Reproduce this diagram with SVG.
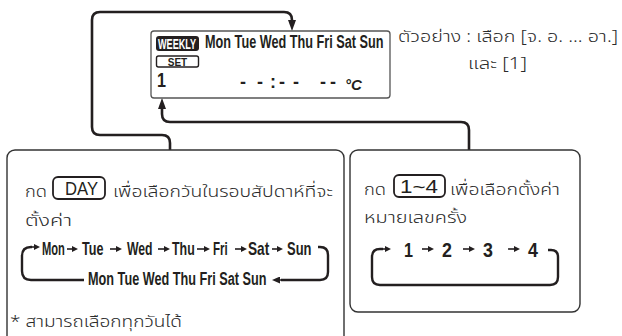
<svg xmlns="http://www.w3.org/2000/svg" width="622" height="336" viewBox="0 0 622 336">
<style>
.bg{fill:#fff}
.box{fill:#fff;stroke:#333;stroke-width:1.4}
.disp{fill:#fff;stroke:#555;stroke-width:1.3}
.con{fill:none;stroke:#231f20;stroke-width:2.6;stroke-linejoin:round}
.loop{fill:none;stroke:#231f20;stroke-width:2.4}
.sa{stroke:#231f20;stroke-width:1.6}
.c{font-family:"Liberation Sans",Arial,sans-serif;font-weight:bold;fill:#231f20}
.th{font-family:"Noto Sans Thai","Noto Sans","DejaVu Sans",sans-serif;fill:#2a2a2a;font-size:16.5px;font-weight:300}
.btn{fill:#fff;stroke:#231f20;stroke-width:1.8}
.btxt{font-family:"Liberation Sans",Arial,sans-serif;fill:#231f20}
</style>
<defs>
<marker id="big" viewBox="0 0 11 8" refX="0" refY="4" markerWidth="11" markerHeight="8" markerUnits="userSpaceOnUse" orient="auto"><path d="M0,0 L11,4 L0,8 z" fill="#231f20"/></marker>
<marker id="sm" viewBox="0 0 6 6" refX="0" refY="3" markerWidth="6" markerHeight="6" markerUnits="userSpaceOnUse" orient="auto"><path d="M0,0 L6,3 L0,6 z" fill="#231f20"/></marker>
<marker id="md" viewBox="0 0 8 7" refX="0" refY="3.5" markerWidth="8" markerHeight="7" markerUnits="userSpaceOnUse" orient="auto"><path d="M0,0 L8,3.5 L0,7 z" fill="#231f20"/></marker>
</defs>
<rect class="bg" x="0" y="0" width="622" height="336"/>

<g id="connectors">
<path class="con" d="M170 150 V143 Q170 135 162 135 H100 Q92 135 92 127 V20 Q92 12 100 12 H284 Q292 12 292 20" marker-end="url(#big)"/>
<path class="con" d="M469 150 V130 Q469 122 461 122 H170 Q162 122 162 114 V109" marker-end="url(#big)"/>
</g>

<g id="display">
<rect class="disp" x="151" y="31" width="239" height="67" rx="3"/>
<rect x="156" y="36" width="43" height="15" rx="3" fill="#231f20"/>
<text class="c" transform="translate(158 49) scale(0.65 1)" font-size="14" style="fill:#fff">WEEKLY</text>
<text class="c" transform="translate(205 48) scale(0.705 1)" font-size="18">Mon Tue Wed Thu Fri Sat Sun</text>
<rect x="156.5" y="56" width="42" height="11" rx="2" fill="#fff" stroke="#231f20" stroke-width="1.4"/>
<text class="c" x="177.5" y="65.5" font-size="10" text-anchor="middle">SET</text>
<text class="c" transform="translate(157 87) scale(0.77 1)" font-size="21">1</text>
<text class="c" x="240 257 270 279 293" y="88" font-size="18">--:--</text>
<text class="c" x="320 330" y="88" font-size="18">--</text>
<text class="c" x="345" y="90" font-size="15" font-style="italic">°C</text>
</g>

<g id="example">
<text class="th" x="398" y="42" textLength="220" lengthAdjust="spacingAndGlyphs">ตัวอย่าง : เลือก [จ. อ. ... อา.]</text>
<text class="th" x="468" y="69" textLength="59" lengthAdjust="spacingAndGlyphs">และ [1]</text>
</g>

<g id="day-box">
<rect class="box" x="7" y="150" width="337" height="200" rx="8"/>
<text class="th" x="25" y="197" textLength="22" lengthAdjust="spacingAndGlyphs">กด</text>
<rect class="btn" x="53" y="177" width="52" height="22" rx="5"/>
<text class="btxt" x="65" y="195" font-size="19" textLength="33" lengthAdjust="spacingAndGlyphs">DAY</text>
<text class="th" x="113" y="197" textLength="220" lengthAdjust="spacingAndGlyphs">เพื่อเลือกวันในรอบสัปดาห์ที่จะ</text>
<text class="th" x="25" y="226" textLength="47" lengthAdjust="spacingAndGlyphs">ตั้งค่า</text>
<g class="c" font-size="18">
<text transform="translate(42 255) scale(0.62 1)">Mon</text>
<text transform="translate(82 255) scale(0.7 1)">Tue</text>
<text transform="translate(127 255) scale(0.68 1)">Wed</text>
<text transform="translate(172 255) scale(0.69 1)">Thu</text>
<text transform="translate(213 255) scale(0.64 1)">Fri</text>
<text transform="translate(248 255) scale(0.76 1)">Sat</text>
<text transform="translate(287 255) scale(0.72 1)">Sun</text>
<text transform="translate(88 285) scale(0.705 1)">Mon Tue Wed Thu Fri Sat Sun</text>
</g>
<line class="sa" x1="67" y1="249" x2="72" y2="249" marker-end="url(#sm)"/>
<line class="sa" x1="110" y1="249" x2="116" y2="249" marker-end="url(#sm)"/>
<line class="sa" x1="158" y1="249" x2="164" y2="249" marker-end="url(#sm)"/>
<line class="sa" x1="197" y1="249" x2="204" y2="249" marker-end="url(#sm)"/>
<line class="sa" x1="235" y1="249" x2="241" y2="249" marker-end="url(#sm)"/>
<line class="sa" x1="272" y1="249" x2="277" y2="249" marker-end="url(#sm)"/>
<path class="loop" d="M32 247 H31 Q22 247 22 256 V271 Q22 280 31 280 H84"/>
<line class="sa" x1="31" y1="247" x2="34" y2="247" stroke-width="2" marker-end="url(#sm)"/>
<path class="loop" d="M318 247 H320 Q328 247 328 255 V272 Q328 280 320 280 H281"/>
<line class="sa" x1="282" y1="280" x2="280" y2="280" stroke-width="2" marker-end="url(#md)"/>
<text class="th" x="10" y="327" textLength="172" lengthAdjust="spacingAndGlyphs">* สามารถเลือกทุกวันได้</text>
</g>

<g id="number-box">
<rect class="box" x="350" y="150" width="230" height="162" rx="8"/>
<text class="th" x="364" y="195" textLength="22" lengthAdjust="spacingAndGlyphs">กด</text>
<rect class="btn" x="394" y="175" width="51" height="22" rx="5"/>
<text class="btxt" x="400" y="193" font-size="18" textLength="38" lengthAdjust="spacingAndGlyphs">1~4</text>
<text class="th" x="450" y="195" textLength="110" lengthAdjust="spacingAndGlyphs">เพื่อเลือกตั้งค่า</text>
<text class="th" x="364" y="223" textLength="103" lengthAdjust="spacingAndGlyphs">หมายเลขครั้ง</text>
<g class="c" font-size="21">
<text transform="translate(404 257) scale(0.77 1)">1</text>
<text transform="translate(442 257) scale(0.85 1)">2</text>
<text transform="translate(483 257) scale(0.85 1)">3</text>
<text transform="translate(528 257) scale(0.85 1)">4</text>
</g>
<line class="sa" x1="422" y1="249" x2="428" y2="249" marker-end="url(#sm)"/>
<line class="sa" x1="463" y1="249" x2="469" y2="249" marker-end="url(#sm)"/>
<line class="sa" x1="508" y1="249" x2="514" y2="249" marker-end="url(#sm)"/>
<path class="loop" d="M383 249 H380 Q372 249 372 257 V277 Q372 285 380 285 H550 Q558 285 558 277 V257 Q558 250 551 250 H548"/>
<line class="sa" x1="382" y1="249" x2="385" y2="249" stroke-width="2" marker-end="url(#sm)"/>
</g>
</svg>
